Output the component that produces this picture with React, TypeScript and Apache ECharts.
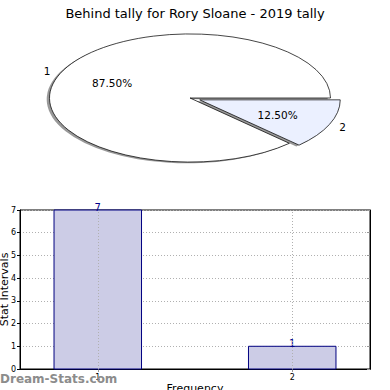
import React, { useEffect, useRef } from "react";
import * as echarts from "echarts";

const chartTitle = "Behind tally for Rory Sloane - 2019 tally";
const pieLabels = ["1", "2"];
const pieValues = [7, 1];
const pieColors = ["#ffffff", "#ebf0ff"];
const pieExplode = [0, 0.075];

const barCategories = [1, 2];
const barValues = [7, 1];
const yTicks = [0, 1, 2, 3, 4, 5, 6, 7];

const FONT = "DejaVu Sans, sans-serif";

export default function App() {
  const ref = useRef<HTMLDivElement>(null);
  useEffect(() => {
    if (!ref.current) return;
    const chart = echarts.init(ref.current, null, { renderer: "svg" });
    const total = pieValues.reduce((a, b) => a + b, 0);
    const PCX = 190;
    const PCY = 98;
    const RX = 140.5;
    const RY = 64;
    const sy = RY / RX;

    const pieRender = (params: any, api: any) => {
      const i = params.dataIndex;
      let before = 0;
      for (let k = 0; k < i; k++) before += pieValues[k];
      const v = api.value(0);
      const start = (before / total) * Math.PI * 2;
      const end = ((before + v) / total) * Math.PI * 2;
      const mid = (start + end) / 2;
      const e = pieExplode[i];
      const cx = PCX + e * RX * Math.cos(mid);
      const cy = PCY - e * RY * Math.sin(mid);
      const lx = PCX + (1.1 + e) * RX * Math.cos(mid);
      const ly = PCY - (1.1 + e) * RY * Math.sin(mid);
      const px = PCX + (0.6 + e) * RX * Math.cos(mid);
      const py = PCY - (0.6 + e) * RY * Math.sin(mid);
      const shape = { cx: 0, cy: 0, r: RX, startAngle: -start, endAngle: -end, clockwise: false };
      return {
        type: "group",
        children: [
          {
            type: "group",
            x: cx - 2.8,
            y: cy + 1.3,
            scaleY: sy,
            children: [{ type: "sector", shape, style: { fill: "rgba(0,0,0,0.4)" } }],
          },
          {
            type: "group",
            x: cx,
            y: cy,
            scaleY: sy,
            children: [
              {
                type: "sector",
                shape,
                style: { fill: pieColors[i], stroke: "#000", lineWidth: 1, strokeNoScale: true },
              },
            ],
          },
          {
            type: "text",
            x: lx,
            y: ly,
            style: { text: pieLabels[i], fill: "#000", font: `10.5px ${FONT}`, align: "center", verticalAlign: "middle" },
          },
          {
            type: "text",
            x: px,
            y: py,
            style: {
              text: ((v / total) * 100).toFixed(2) + "%",
              fill: "#000",
              font: `10.5px ${FONT}`,
              align: "center",
              verticalAlign: "middle",
            },
          },
        ],
      };
    };

    const barRender = (params: any, api: any) => {
      const x = api.value(0);
      const y = api.value(1);
      const p0 = api.coord([x - 0.225, y]);
      const p1 = api.coord([x + 0.225, 0]);
      return {
        type: "group",
        children: [
          {
            type: "rect",
            shape: { x: p0[0], y: p0[1], width: p1[0] - p0[0], height: p1[1] - p0[1] },
            style: { fill: "#ccccE6", stroke: "#000080", lineWidth: 1 },
          },
          {
            type: "text",
            x: (p0[0] + p1[0]) / 2,
            y: p0[1] + 2,
            style: { text: String(y), fill: "#00008b", font: `10px ${FONT}`, align: "center", verticalAlign: "bottom" },
          },
        ],
      };
    };

    const dotted = { type: [1, 2], color: "#b0b0b0", width: 1 };

    chart.setOption({
      animation: false,
      title: {
        text: chartTitle,
        left: "center",
        top: 2,
        textStyle: { fontFamily: FONT, fontSize: 13, fontWeight: "normal", color: "#000" },
      },
      graphic: [
        {
          type: "text",
          left: 0,
          top: 373,
          z: 100,
          style: { text: "Dream-Stats.com", fill: "#8c8c8c", font: `bold 12px ${FONT}` },
        },
      ],
      grid: {
        left: 20,
        right: 20,
        top: 210,
        bottom: 21,
        containLabel: false,
        outerBoundsMode: "none",
        show: true,
        borderColor: "#000",
        borderWidth: 1,
      },
      xAxis: [
        {
          type: "value",
          min: 0.6,
          max: 2.4,
          name: "Frequency",
          nameLocation: "middle",
          nameGap: 14,
          nameMoveOverlap: false,
          nameTextStyle: { fontFamily: FONT, fontSize: 11, color: "#000", verticalAlign: "top" },
          axisLine: { show: true, lineStyle: { color: "#000" } },
          axisTick: { show: true, customValues: barCategories, length: 3, inside: true, lineStyle: { color: "#999" } },
          axisLabel: { customValues: barCategories, fontFamily: FONT, fontSize: 8, color: "#000", margin: 4 },
          splitLine: { show: false },
        },
        {
          type: "value",
          position: "top",
          min: 0.6,
          max: 2.4,
          axisLine: { show: true, lineStyle: { color: "#000" } },
          axisTick: { show: true, customValues: barCategories, length: 3, inside: true, lineStyle: { color: "#999" } },
          axisLabel: { show: false },
          splitLine: { show: false },
        },
      ],
      yAxis: [
        {
          type: "value",
          min: 0,
          max: 7,
          interval: 1,
          name: "Stat Intervals",
          nameLocation: "middle",
          nameGap: 10,
          nameMoveOverlap: false,
          nameTextStyle: { fontFamily: FONT, fontSize: 11, color: "#000" },
          axisLine: { show: true, lineStyle: { color: "#000" } },
          axisTick: { show: true, length: 3, lineStyle: { color: "#000" } },
          axisLabel: { fontFamily: FONT, fontSize: 8, color: "#000", margin: 4 },
          splitLine: { show: true, lineStyle: dotted },
        },
        {
          type: "value",
          position: "right",
          min: 0,
          max: 7,
          interval: 1,
          axisLine: { show: true, lineStyle: { color: "#000" } },
          axisTick: { show: true, length: 3, inside: true, lineStyle: { color: "#999" } },
          axisLabel: { show: false },
          splitLine: { show: false },
        },
      ],
      series: [
        {
          type: "custom",
          coordinateSystem: "none",
          renderItem: pieRender,
          data: pieValues.map((v) => [v]),
          silent: true,
        },
        {
          type: "custom",
          coordinateSystem: "cartesian2d",
          xAxisIndex: 0,
          yAxisIndex: 0,
          renderItem: barRender,
          data: barCategories.map((c, i) => [c, barValues[i]]),
          silent: true,
          z: 3,
          markLine: {
            silent: true,
            symbol: "none",
            label: { show: false },
            lineStyle: dotted,
            z: 4,
            data: barCategories.map((c) => ({ xAxis: c })),
          },
        },
      ],
    });
    return () => chart.dispose();
  }, []);
  return <div ref={ref} style={{ width: 390, height: 390, position: "absolute", left: 0, top: 0 }} />;
}
